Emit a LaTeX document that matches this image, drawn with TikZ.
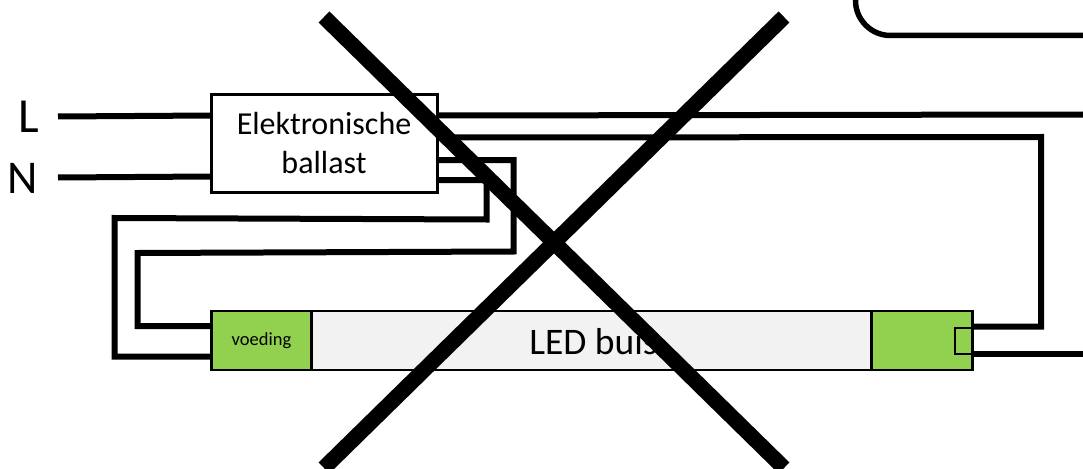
\documentclass[tikz,border=0pt]{standalone}
\usepackage{fontspec}
\setmainfont{Carlito}
\begin{document}
\begin{tikzpicture}[x=1pt,y=-1pt,
  wire/.style={draw=black,line width=6pt,line cap=butt,line join=miter},
  boxstyle/.style={draw=black,line width=2.6pt,inner sep=0pt,outer sep=0pt,anchor=north west},
  greenbox/.style={boxstyle,fill=ledgreen},
  cross/.style={draw=black,line width=15.5pt,line cap=butt},
  fs/.style={font=\fontsize{#1}{38.5}\selectfont}]
\definecolor{ledgreen}{HTML}{92D050}
\definecolor{tubegrey}{HTML}{F2F2F2}
\useasboundingbox (0,0) rectangle (1083,468);
% LED tube
\node[boxstyle,fill=tubegrey,minimum width=761pt,minimum height=59pt] (tube) at (211.5,311) {};
\node[greenbox,minimum width=100pt,minimum height=59pt] (gl) at (211.5,311) {};
\node[greenbox,minimum width=101pt,minimum height=59pt] (gr) at (871.5,311) {};
\node[boxstyle,fill=ledgreen,minimum width=17pt,minimum height=26pt] (starter) at (955,328) {};
\node[boxstyle,minimum width=226pt,minimum height=98pt,fill=white] (ballast) at (211.5,94.5) {};
\node[fs=32,align=center,inner sep=0pt] (ballasttext) at (324,143) {Elektronische\\ballast};
\node[fs=18.5,inner sep=0pt] (voeding) at (261.5,341) {voeding};
\node[fs=37.5,inner sep=0pt] (ledtext) at (593.5,342) {LED buis};
\node[fs=49,inner sep=0pt] (L) at (28.5,117) {L};
\node[fs=47,inner sep=0pt] (N) at (22.5,178) {N};
% free ends
\coordinate (lstart) at (58,116.5);
\coordinate (nstart) at (58,177.5);
\coordinate (lend) at (1083,114.5);
\coordinate (bend) at (1083,354);
\coordinate (lin) at (211,115.5);
\coordinate (nin) at (211,176.5);
\coordinate (o0) at (437,115.5);
\coordinate (o1) at (437,137.5);
\coordinate (o2) at (437,160);
\coordinate (o3) at (437,180);
\coordinate (a) at (1041,137);
\coordinate (b) at (973,326.5);
\coordinate (c) at (973,354);
\coordinate (d1) at (211,326);
\coordinate (d2) at (211,356.5);
% wires
\draw[wire] (lstart) -- (lin);
\draw[wire] (nstart) -- (nin);
\draw[wire] (o0) -- (lend);
\draw[wire] (o1) -- (a) -- (a |- b) -- (b);
\draw[wire] (c) -- (bend);
\draw[wire] (o2) -- (513.5,160) -- (513.5,251.5) -- (137.5,253) -- (137.5,326) -- (d1);
\draw[wire] (o3) -- (486.5,180) -- (486.5,219.5) -- (114.5,218) -- (114.5,356.5) -- (d2);
% rounded box at top right
\draw[draw=black,line width=5.5pt,rounded corners=35pt] (855.5,-50) -- (855.5,35.5) -- (1120,35.5);
% cross
\coordinate (tl) at (324,17);
\coordinate (tr) at (784,17);
\coordinate (bl) at (324,468);
\coordinate (br) at (784,468);
\draw[cross] (tl) -- (br);
\draw[cross] (tr) -- (bl);
\end{tikzpicture}
\end{document}
